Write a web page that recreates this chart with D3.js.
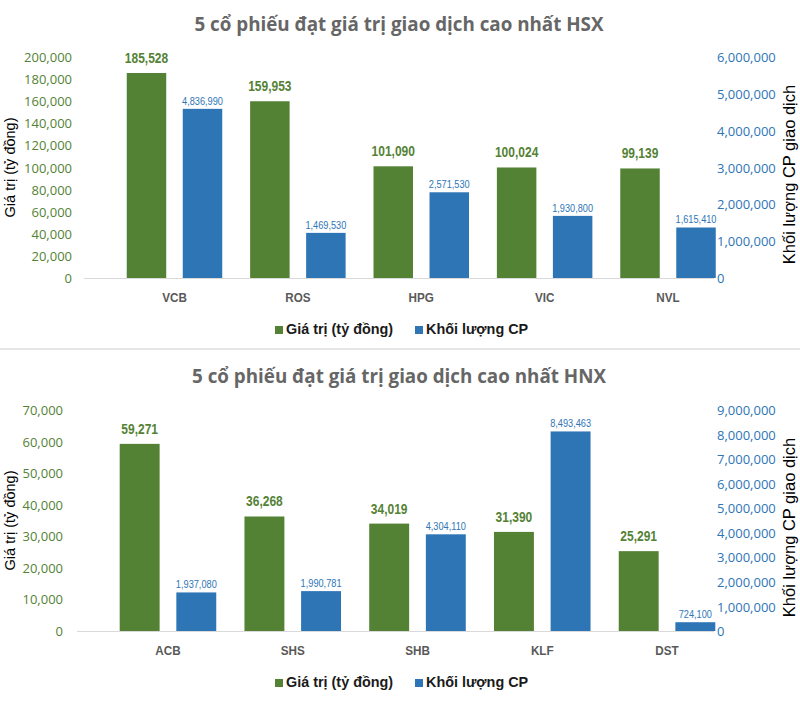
<!DOCTYPE html>
<html>
<head>
<meta charset="utf-8">
<script src="https://cdn.jsdelivr.net/npm/d3@7"></script>
<style>
  html, body { margin: 0; padding: 0; background: #fff; }
  svg { display: block; }
</style>
</head>
<body>
<svg id="chart" width="800" height="724"></svg>
<script>
// ---------- DATA ----------
const seriesNames = ["Giá trị (tỷ đồng)", "Khối lượng CP"];

const hsxTitle = "5 cổ phiếu đạt giá trị giao dịch cao nhất HSX";
const hsxCategories = ["VCB", "ROS", "HPG", "VIC", "NVL"];
const hsxValue = [185528, 159953, 101090, 100024, 99139];
const hsxVolume = [4836990, 1469530, 2571530, 1930800, 1615410];
const hsxLeftTicks = [0, 20000, 40000, 60000, 80000, 100000, 120000, 140000, 160000, 180000, 200000];
const hsxRightTicks = [0, 1000000, 2000000, 3000000, 4000000, 5000000, 6000000];

const hnxTitle = "5 cổ phiếu đạt giá trị giao dịch cao nhất HNX";
const hnxCategories = ["ACB", "SHS", "SHB", "KLF", "DST"];
const hnxValue = [59271, 36268, 34019, 31390, 25291];
const hnxVolume = [1937080, 1990781, 4304110, 8493463, 724100];
const hnxLeftTicks = [0, 10000, 20000, 30000, 40000, 50000, 60000, 70000];
const hnxRightTicks = [0, 1000000, 2000000, 3000000, 4000000, 5000000, 6000000, 7000000, 8000000, 9000000];

const leftAxisTitle = "Giá trị (tỷ đồng)";
const rightAxisTitle = "Khối lượng CP giao dịch";

// ---------- STYLE ----------
const GREEN = "#548235";
const BLUE = "#2e75b6";
const fmt = d3.format(",");
const svg = d3.select("#chart");

function drawChart(o) {
  const g = svg.append("g");
  const yL = d3.scaleLinear().domain([0, o.leftTicks[o.leftTicks.length - 1]]).range([o.base, o.top]);
  const yR = d3.scaleLinear().domain([0, o.rightTicks[o.rightTicks.length - 1]]).range([o.base, o.top]);
  const yRBar = d3.scaleLinear().domain(yR.domain()).range([o.base + o.barShift, o.top + o.barShift]);

  const x0 = d3.scaleBand().domain(o.cats).range(o.bandRange).paddingInner(0.226).paddingOuter(0.113);
  const x1 = d3.scaleBand().domain([0, 1]).range([0, x0.bandwidth()]).paddingInner(0.295);

  // title
  g.append("text").attr("x", 399).attr("y", o.titleY).attr("text-anchor", "middle")
    .attr("font-family", "'Open Sans', sans-serif").attr("font-weight", 700)
    .attr("font-size", 18.8).attr("fill", "#666666").text(o.title);

  // left ticks
  const axL = d3.axisLeft(yL).tickValues(o.leftTicks).tickFormat(fmt).tickSize(0).tickPadding(0);
  const gL = g.append("g").attr("transform", `translate(${o.leftLabelX},0)`).call(axL);
  gL.select(".domain").remove();
  gL.selectAll("text").attr("font-family", "'Open Sans', sans-serif").attr("font-size", 13)
    .attr("fill", GREEN).attr("dy", "0.35em");

  // right ticks
  const axR = d3.axisRight(yR).tickValues(o.rightTicks).tickFormat(fmt).tickSize(0).tickPadding(0);
  const gR = g.append("g").attr("transform", `translate(717,0)`).call(axR);
  gR.select(".domain").remove();
  gR.selectAll("text").attr("font-family", "'Open Sans', sans-serif").attr("font-size", 13)
    .attr("fill", BLUE).attr("dy", "0.35em");

  // axis titles
  const mid = (o.base + o.top) / 2;
  g.append("text").attr("transform", `translate(10,${mid}) rotate(-90)`)
    .attr("text-anchor", "middle").attr("dominant-baseline", "central")
    .attr("font-family", "'Liberation Sans', Arial, sans-serif").attr("font-size", 14.5)
    .attr("fill", "#000").text(leftAxisTitle);
  g.append("text").attr("transform", `translate(789,${mid + 7}) rotate(-90)`)
    .attr("text-anchor", "middle").attr("dominant-baseline", "central")
    .attr("font-family", "'Liberation Sans', Arial, sans-serif").attr("font-size", 16.5)
    .attr("fill", "#000").text(rightAxisTitle);

  // baseline
  g.append("line").attr("x1", o.axisX0).attr("x2", 714).attr("y1", o.base + 0.5).attr("y2", o.base + 0.5)
    .attr("stroke", "#d9d9d9").attr("stroke-width", 1);

  const rows = o.cats.map((c, i) => ({ c, v: o.vals[i], q: o.vols[i] }));

  // green bars
  g.selectAll(".gb").data(rows).join("rect")
    .attr("x", d => x0(d.c) + x1(0)).attr("width", x1.bandwidth())
    .attr("y", d => yL(d.v)).attr("height", d => o.base - yL(d.v)).attr("fill", GREEN);
  // blue bars
  g.selectAll(".bb").data(rows).join("rect")
    .attr("x", d => x0(d.c) + x1(1)).attr("width", x1.bandwidth())
    .attr("y", d => yRBar(d.q)).attr("height", d => o.base - yRBar(d.q)).attr("fill", BLUE);

  // labels (condensed look via horizontal scale)
  g.selectAll(".gl").data(rows).join("text")
    .attr("transform", d => `translate(${x0(d.c) + x1(0) + x1.bandwidth() / 2},${yL(d.v) - 10}) scale(0.8,1)`)
    .attr("text-anchor", "middle").attr("font-family", "'Liberation Sans', Arial, sans-serif")
    .attr("font-weight", 700).attr("font-size", 15).attr("fill", GREEN).text(d => fmt(d.v));
  g.selectAll(".bl").data(rows).join("text")
    .attr("transform", d => `translate(${x0(d.c) + x1(1) + x1.bandwidth() / 2},${yRBar(d.q) - 4}) scale(0.8,1)`)
    .attr("text-anchor", "middle").attr("font-family", "'Liberation Sans', Arial, sans-serif")
    .attr("font-size", 11.5).attr("fill", BLUE).text(d => fmt(d.q));

  // category labels
  g.selectAll(".cl").data(rows).join("text")
    .attr("transform", d => `translate(${x0(d.c) + x0.bandwidth() / 2},${o.base + 24}) scale(0.9,1)`)
    .attr("text-anchor", "middle").attr("font-family", "'Liberation Sans', Arial, sans-serif")
    .attr("font-weight", 700).attr("font-size", 13).attr("fill", "#595959").text(d => d.c);

  // legend
  const ly = o.base + 56;
  const legendX = [275, 415];
  seriesNames.forEach((n, i) => {
    g.append("rect").attr("x", legendX[i]).attr("y", ly - 8).attr("width", 8).attr("height", 8)
      .attr("fill", i === 0 ? GREEN : BLUE);
    g.append("text").attr("transform", `translate(${legendX[i] + 11},${ly}) scale(0.96,1)`)
      .attr("font-family", "'Liberation Sans', Arial, sans-serif").attr("font-weight", 700)
      .attr("font-size", 15).attr("fill", "#1a1a1a").text(n);
  });
}

drawChart({
  title: hsxTitle, titleY: 31, cats: hsxCategories, vals: hsxValue, vols: hsxVolume,
  leftTicks: hsxLeftTicks, rightTicks: hsxRightTicks,
  top: 57, base: 278, barShift: 9, bandRange: [112.8, 729.7], axisX0: 84, leftLabelX: 72
});

// separator
svg.append("rect").attr("x", 0).attr("y", 348).attr("width", 800).attr("height", 2).attr("fill", "#e6e6e6");

drawChart({
  title: hnxTitle, titleY: 383, cats: hnxCategories, vals: hnxValue, vols: hnxVolume,
  leftTicks: hnxLeftTicks, rightTicks: hnxRightTicks,
  top: 410, base: 631, barShift: 9, bandRange: [105.6, 729.4], axisX0: 77, leftLabelX: 63
});
</script>
</body>
</html>
